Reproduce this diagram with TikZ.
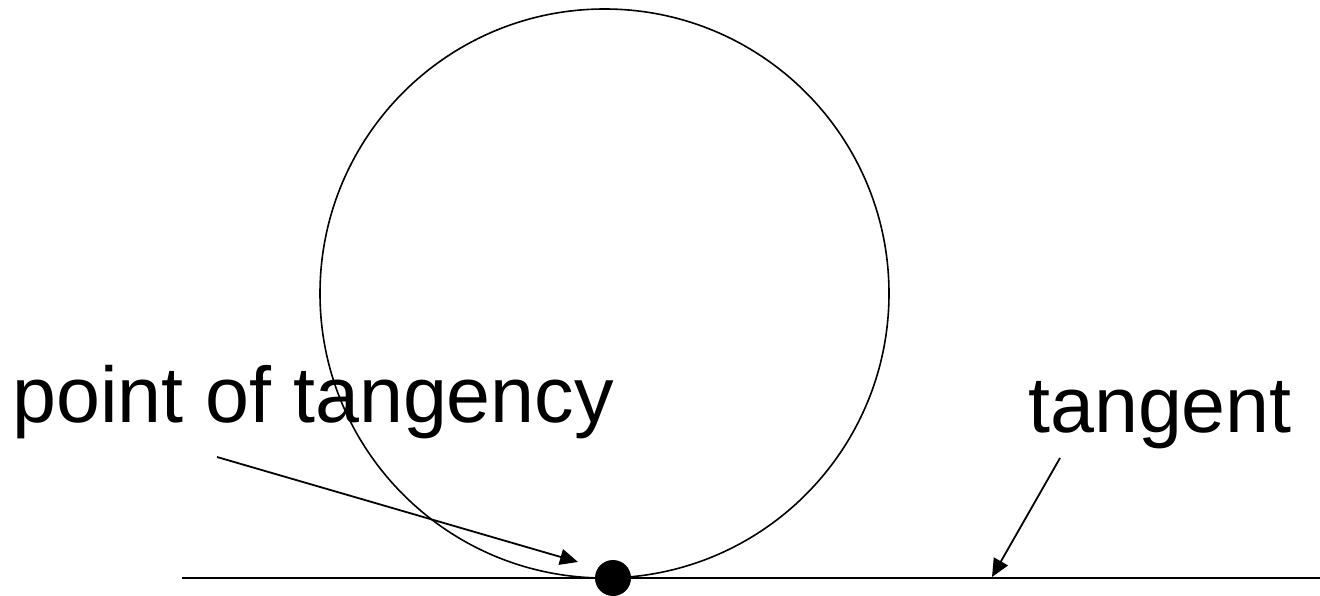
\documentclass[tikz,border=0pt]{standalone}
\usepackage{fontspec}
\setmainfont{Liberation Sans}
\usetikzlibrary{arrows.meta}
\begin{document}
\begin{tikzpicture}[x=1pt,y=-1pt,
  lbl/.style={inner sep=0pt,anchor=base west,font=\fontsize{79}{90}\selectfont},
  arr/.style={line width=1.8pt,-{Triangle[length=18pt,width=16pt]}},
  thin/.style={line width=1.6pt},
  tline/.style={line width=2.2pt}]
\useasboundingbox (0,0) rectangle (1320,596);
\coordinate (C) at (604.5,293.5);
\draw[thin] (C) circle[radius=284.5pt];
\coordinate (L) at (182,578);
\coordinate (R) at (1320,578);
\draw[tline] (L) -- (R);
\node[circle,fill=black,inner sep=0pt,minimum size=36pt] (P) at (613,578) {};
\node[lbl] (t1) at (12,422) {point of tangency};
\node[lbl] (t2) at (1028,432) {tangent};
\coordinate (a1s) at (217,457);
\coordinate (a1e) at (578,562);
\coordinate (a2s) at (1060,458);
\coordinate (a2e) at (992,577);
\draw[arr] (a1s) -- (a1e);
\draw[arr] (a2s) -- (a2e);
\end{tikzpicture}
\end{document}
